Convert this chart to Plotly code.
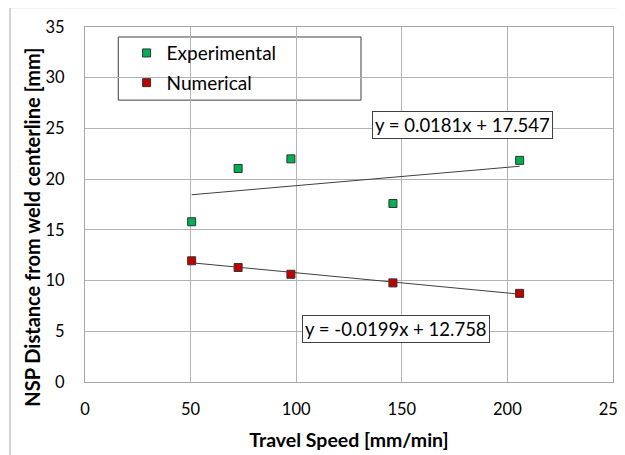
import plotly.graph_objects as go

# Data
speed = [50.5, 72.5, 97.5, 145.8, 205.8]
experimental = [15.8, 21.05, 22.0, 17.6, 21.85]
numerical = [11.95, 11.29, 10.62, 9.77, 8.74]

# Trendline coefficients as printed on the chart
exp_slope, exp_icpt = 0.0181, 17.547
num_slope, num_icpt = -0.0199, 12.758

x_ticks = [0, 50, 100, 150, 200, 250]
y_ticks = [0, 5, 10, 15, 20, 25, 30, 35]

FONT = "Lato, Carlito, 'Liberation Sans', sans-serif"

xline = [min(speed), max(speed)]
exp_fit = [exp_slope * v + exp_icpt for v in xline]
num_fit = [num_slope * v + num_icpt for v in xline]

fig = go.Figure()
fig.add_trace(go.Scatter(x=xline, y=exp_fit, mode="lines", showlegend=False,
                         line=dict(color="#404040", width=1)))
fig.add_trace(go.Scatter(x=xline, y=num_fit, mode="lines", showlegend=False,
                         line=dict(color="#404040", width=1)))
fig.add_trace(go.Scatter(x=speed, y=experimental, mode="markers", name="Experimental",
                         legendgroup="a",
                         marker=dict(symbol="square", size=8, color="#00b050",
                                     line=dict(color="#333333", width=1))))
fig.add_trace(go.Scatter(x=speed, y=numerical, mode="markers", name="Numerical",
                         legendgroup="b",
                         marker=dict(symbol="square", size=8, color="#c00000",
                                     line=dict(color="#333333", width=1))))

fig.add_annotation(x=178.9, y=25.34, xref="x", yref="y",
                   text=f"y = {exp_slope}x + {exp_icpt}", showarrow=False,
                   font=dict(family=FONT, size=18.5, color="#000000"),
                   bgcolor="white", bordercolor="#404040", borderwidth=1, borderpad=2)
fig.add_annotation(x=147.3, y=5.2, xref="x", yref="y",
                   text=f"y = {num_slope}x + {num_icpt}", showarrow=False,
                   font=dict(family=FONT, size=18.5, color="#000000"),
                   bgcolor="white", bordercolor="#404040", borderwidth=1, borderpad=2)

# y-axis title (placed like the original, a little below the axis centre)
fig.add_annotation(x=-0.0994, y=0.436, xref="paper", yref="paper",
                   text="<b>NSP Distance from weld centerline [mm]</b>", showarrow=False,
                   textangle=-90, xanchor="center", yanchor="middle",
                   font=dict(family=FONT, size=20, color="#000000"))

# legend frame
fig.add_shape(type="rect", xref="paper", yref="paper",
              x0=0.063, x1=0.5227, y0=0.794, y1=0.9718,
              line=dict(color="#404040", width=1), fillcolor="white", layer="below")
# outer chart border
fig.add_shape(type="rect", xref="paper", yref="paper",
              x0=-0.142, x1=1.2, y0=-0.4, y1=1.0545,
              line=dict(color="#a6a6a6", width=1), layer="below")

# the page body adds an 8px offset, so the figure is sized/margined to compensate
fig.update_layout(
    width=617, height=447,
    margin=dict(l=77, r=12, t=19, b=73),
    paper_bgcolor="white", plot_bgcolor="white",
    font=dict(family=FONT, size=15, color="#000000"),
    legend=dict(x=0.0788, y=0.980, xanchor="left", yanchor="top",
                bgcolor="rgba(0,0,0,0)", borderwidth=0,
                font=dict(family=FONT, size=19, color="#000000"),
                tracegroupgap=2, traceorder="grouped"),
    xaxis=dict(range=[0, 250], tickvals=x_ticks, showgrid=True, gridcolor="#b3b3b3",
               gridwidth=1, zeroline=False, showline=True, linecolor="#a6a6a6",
               mirror=True, ticks="", ticklabelstandoff=12, automargin=False,
               ticklabeloverflow="allow",
               tickfont=dict(family=FONT, size=16.5),
               title=dict(text="<b>Travel Speed [mm/min]</b>", standoff=15,
                          font=dict(family=FONT, size=19.5))),
    yaxis=dict(range=[0, 35], tickvals=y_ticks, showgrid=True, gridcolor="#b3b3b3",
               gridwidth=1, zeroline=False, showline=True, linecolor="#a6a6a6",
               mirror=True, ticks="", ticklabelstandoff=16, automargin=False,
               ticklabeloverflow="allow",
               tickfont=dict(family=FONT, size=16.5)),
)

fig.write_html("out.html")
